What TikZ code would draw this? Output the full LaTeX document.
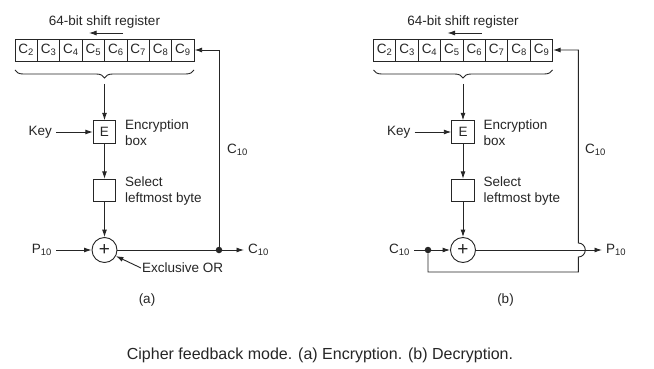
\documentclass[tikz,border=0pt]{standalone}
\usepackage{fontspec}
\setmainfont{Liberation Sans}
\usetikzlibrary{arrows.meta,decorations.pathreplacing}
\definecolor{ink}{HTML}{262626}
\tikzset{
  wire/.style={draw=ink, line width=0.9pt},
  flow/.style={wire, -{Latex[length=7.5pt,width=5pt]}},
  cell/.style={draw=ink, line width=0.9pt, minimum width=22.4pt, minimum height=22pt, inner sep=0pt, text=ink},
  unit/.style={draw=ink, line width=0.9pt, minimum size=22.5pt, inner sep=0pt, text=ink},
  xorgate/.style={circle, draw=ink, line width=0.9pt, minimum size=25pt, inner sep=0pt, text=ink, font=\fontsize{19}{19}\selectfont},
  joint/.style={circle, fill=ink, minimum size=6.5pt, inner sep=0pt},
  lbl/.style={text=ink, inner sep=1pt},
  port/.style={text=ink, inner sep=4pt},
}
\begin{document}
\begin{tikzpicture}[x=1pt, y=-1pt, font=\fontsize{13.5}{16}\selectfont]
    \fill[white] (0,0) rectangle (654,369);
    \useasboundingbox (0,0) rectangle (654,369);

    % Common part: register, encryption box, byte select, XOR
    \foreach \side/\dx in {a/0, b/358.5} {
    \begin{scope}[xshift=\dx pt, name prefix=\side-]
        \foreach \i in {2,...,9}
            \node[cell] (c\i) at ({26.2 + 22.4*(\i-2)}, 50) {C\textsubscript{\i}};
        \node[lbl] (title) at (104.5, 22) {64-bit shift register};
        \coordinate (shift-from) at (123, 33);
        \coordinate (shift-to) at (89, 33);
        \draw[flow] (shift-from) -- (shift-to);

        % Brace under the register
        \coordinate (brace-l) at (15, 70);
        \coordinate (brace-r) at (194, 70);
        \coordinate (brace-tip) at (104.5, 84);
        \draw[wire, decorate, decoration={brace, mirror, amplitude=8pt}] (brace-l) -- (brace-r);

        \node[unit] (E) at (104.5, 132) {E};
        \node[lbl, anchor=west, align=left] (E-text) at (124, 133) {Encryption\\box};
        \node[port, anchor=east] (key) at (56, 132) {Key};
        \node[unit] (sel) at (104.5, 190.5) {};
        \node[lbl, anchor=west, align=left] (sel-text) at (124, 191.5) {Select\\leftmost byte};
        \node[xorgate] (xor) at (104.5, 250) {+};

        \draw[flow] (brace-tip) -- (E);
        \draw[flow] (key) -- (E);
        \draw[flow] (E) -- (sel);
        \draw[flow] (sel) -- (xor);

        \node[lbl] (tag) at (147, 300) {(\side)};
    \end{scope}
    }

    % (a) Encryption
    \node[port, anchor=east] (a-p) at (56, 250) {P\textsubscript{10}};
    \node[joint] (a-tap) at (219, 250) {};
    \node[port, anchor=west] (a-c) at (244, 250) {C\textsubscript{10}};
    \node[lbl, anchor=west] (a-back) at (226, 150) {C\textsubscript{10}};
    \node[lbl, anchor=west] (a-xor-text) at (141, 268) {Exclusive OR};
    \draw[flow] (a-p) -- (a-xor);
    \draw[wire] (a-xor) -- (a-tap);
    \draw[flow] (a-tap) -- (a-c);
    \draw[flow] (a-tap) |- (a-c9);
    \draw[flow] (a-xor-text.west) -- (a-xor.-28);

    % (b) Decryption
    \node[port, anchor=east] (b-c) at (414, 250) {C\textsubscript{10}};
    \node[joint] (b-tap) at (428, 250) {};
    \node[port, anchor=west] (b-p) at (602, 250) {P\textsubscript{10}};
    \node[lbl, anchor=west] (b-back) at (584, 150) {C\textsubscript{10}};
    \coordinate (b-low) at (578.3, 272);
    \coordinate (b-hop) at (578.3, 257);
    \draw[wire] (b-c) -- (b-tap);
    \draw[flow] (b-tap) -- (b-xor);
    \draw[flow] (b-xor) -- (b-p);
    \draw[flow] (b-tap) |- (b-low) -- (b-hop)
        arc[start angle=-90, end angle=90, radius=7pt] |- (b-c9);

    \node[text=ink, font=\fontsize{16}{18}\selectfont] (caption) at (320, 355)
        {Cipher feedback mode. (a) Encryption. (b) Decryption.};
\end{tikzpicture}
\end{document}
